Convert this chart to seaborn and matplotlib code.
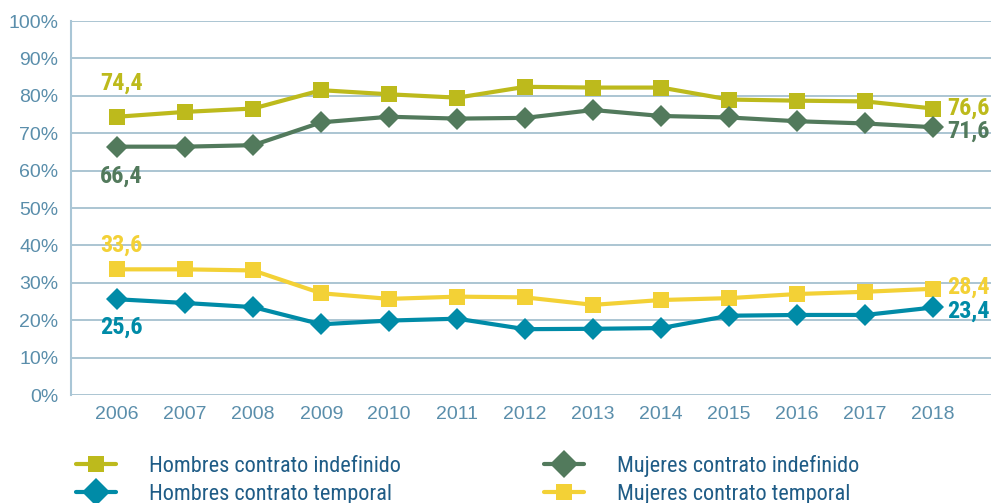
import pandas as pd
import matplotlib.pyplot as plt
import seaborn as sns
from matplotlib.lines import Line2D

years = list(range(2006, 2019))

hombres_indef = [74.4, 75.7, 76.6, 81.5, 80.4, 79.5, 82.4, 82.2, 82.2, 79.0, 78.7, 78.5, 76.6]
mujeres_indef = [66.4, 66.4, 66.8, 72.9, 74.4, 73.9, 74.1, 76.2, 74.6, 74.2, 73.2, 72.6, 71.6]
hombres_temp = [25.6, 24.6, 23.5, 18.9, 19.9, 20.4, 17.6, 17.7, 17.9, 21.2, 21.4, 21.4, 23.4]
mujeres_temp = [33.6, 33.6, 33.3, 27.2, 25.7, 26.3, 26.1, 24.1, 25.4, 25.9, 27.0, 27.6, 28.4]

series = ["Hombres contrato indefinido", "Hombres contrato temporal",
          "Mujeres contrato indefinido", "Mujeres contrato temporal"]
valores = [hombres_indef, hombres_temp, mujeres_indef, mujeres_temp]
colores = {"Hombres contrato indefinido": "#BDBA1C",
           "Hombres contrato temporal": "#008BA7",
           "Mujeres contrato indefinido": "#527A5C",
           "Mujeres contrato temporal": "#F3D136"}
marcadores = {"Hombres contrato indefinido": "s",
              "Hombres contrato temporal": "D",
              "Mujeres contrato indefinido": "D",
              "Mujeres contrato temporal": "s"}

frames = []
for nombre, vals in zip(series, valores):
    frames.append(pd.DataFrame({"anio": years, "valor": vals, "serie": nombre}))
df = pd.concat(frames, ignore_index=True)

sns.set_style("white")
fuente = ["Roboto Condensed", "Liberation Sans Narrow", "Liberation Sans", "DejaVu Sans"]
plt.rcParams["font.family"] = ["Liberation Sans", "DejaVu Sans"]

fig = plt.figure(figsize=(9.91, 5.03), dpi=100)
ax = fig.add_axes([71 / 991, 1 - 395 / 503, (991 - 71) / 991, (395 - 21) / 503])

# amarillos debajo de los verdes/azules
for nombre in ["Mujeres contrato temporal", "Hombres contrato temporal",
               "Hombres contrato indefinido", "Mujeres contrato indefinido"]:
    sub = df[df["serie"] == nombre]
    ms = 12 if marcadores[nombre] == "s" else 11
    sns.lineplot(data=sub, x="anio", y="valor", color=colores[nombre],
                 marker=marcadores[nombre], markersize=ms, markeredgewidth=0,
                 linewidth=3, ax=ax, legend=False)

ax.set_xlim(2005.32, 2018.85)
ax.set_ylim(0, 100)
ax.set_xticks(years)
ax.set_yticks(range(0, 101, 10))
ax.set_yticklabels([f"{v}%" for v in range(0, 101, 10)])
ax.set_xlabel("")
ax.set_ylabel("")
ax.grid(axis="y", color="#9DBBCB", linewidth=1.2)
ax.grid(axis="x", visible=False)
ax.set_axisbelow(True)
for s in ["top", "right", "bottom"]:
    ax.spines[s].set_visible(False)
ax.spines["left"].set_color("#A9C6D6")
ax.spines["left"].set_linewidth(1.5)
ax.tick_params(axis="both", length=0, labelsize=14, labelcolor="#5A8EAB")
ax.tick_params(axis="y", pad=9)
ax.tick_params(axis="x", pad=8)


def etiqueta(v, x, y, dx, dy, color, ha="center"):
    ax.annotate(v, (x, y), xytext=(dx, dy), textcoords="offset points",
                ha=ha, va="center", fontsize=17.5, fontweight="bold",
                color=color, family=fuente)


etiqueta("74,4", 2006, hombres_indef[0], 3, 24, colores["Hombres contrato indefinido"])
etiqueta("66,4", 2006, mujeres_indef[0], 3, -21, colores["Mujeres contrato indefinido"])
etiqueta("33,6", 2006, mujeres_temp[0], 3, 17, colores["Mujeres contrato temporal"])
etiqueta("25,6", 2006, hombres_temp[0], 3, -20, colores["Hombres contrato temporal"])
etiqueta("76,6", 2018, hombres_indef[-1], 10, 0, colores["Hombres contrato indefinido"], "left")
etiqueta("71,6", 2018, mujeres_indef[-1], 10, -3, colores["Mujeres contrato indefinido"], "left")
etiqueta("28,4", 2018, mujeres_temp[-1], 10, 1, colores["Mujeres contrato temporal"], "left")
etiqueta("23,4", 2018, hombres_temp[-1], 10, -3, colores["Hombres contrato temporal"], "left")

handles = {}
for nombre in series:
    ms = 12 if marcadores[nombre] == "s" else 14
    handles[nombre] = Line2D([], [], color=colores[nombre], marker=marcadores[nombre],
                             markersize=ms, markeredgewidth=0, linewidth=3)

for col, x0 in [(series[:2], 63 / 991), (series[2:], 531 / 991)]:
    leg = fig.legend([handles[n] for n in col], col, loc="lower left",
                     bbox_to_anchor=(x0, -0.03), frameon=False,
                     handlelength=1.8, handletextpad=1.45, labelspacing=0.3,
                     borderaxespad=0.2, prop={"family": fuente, "size": 16})
    for t in leg.get_texts():
        t.set_color("#1F5C86")

fig.savefig("out.png", dpi=100)
